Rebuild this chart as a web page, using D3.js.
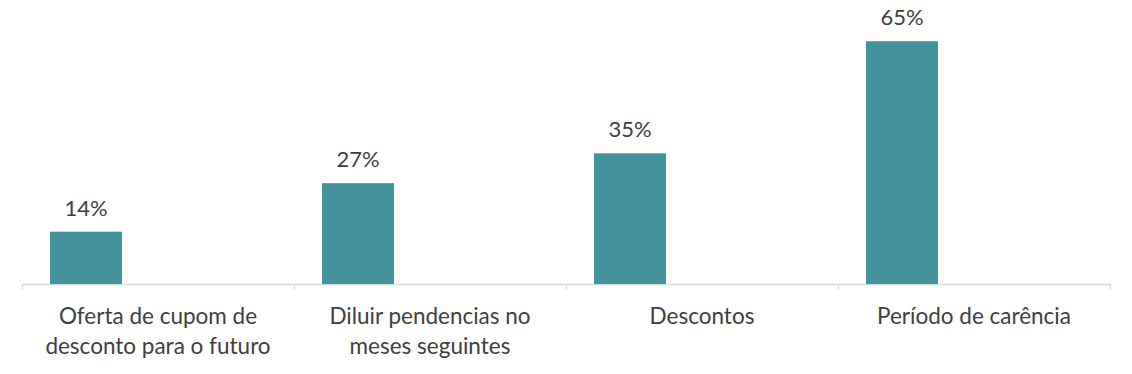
<!DOCTYPE html>
<html>
<head>
<meta charset="utf-8">
<script src="https://cdn.jsdelivr.net/npm/d3@7"></script>
<style>
  body { margin: 0; background: #fff; }
  text { font-family: Lato, "Open Sans", sans-serif; fill: #404040; }
</style>
</head>
<body>
<div id="chart"></div>
<script>
const categories = [
  ['Oferta de cupom de', 'desconto para o futuro'],
  ['Diluir pendencias no', 'meses seguintes'],
  ['Descontos'],
  ['Período de carência']
]
const values = [14, 27, 35, 65]
const series = ['valor', 'vazio']

const width = 1132
const height = 374
const margin = { top: 0, left: 22, right: 22, baseline: 284 }

const svg = d3.select('#chart')
  .append('svg')
  .attr('width', width)
  .attr('height', height)

const xScale = d3.scaleBand()
  .domain(d3.range(categories.length))
  .range([margin.left, width - margin.right])
  .padding(0)

// each category holds two slots, only the first one has a bar
const xInner = d3.scaleBand()
  .domain(series)
  .range([0, xScale.bandwidth()])
  .paddingInner(0.5)
  .paddingOuter(0.194)

const yScale = d3.scaleLinear()
  .domain([0, 70])
  .range([margin.baseline, margin.baseline - 70 * 3.735])

// axis
const xAxis = d3.axisBottom(xScale)
  .tickSize(0)
  .tickFormat('')

const axisG = svg.append('g')
  .attr('transform', 'translate(0,' + margin.baseline + ')')
  .call(xAxis)
axisG.select('.domain').attr('stroke', '#d9d9d9').attr('stroke-width', 1.3)

// category separators
const edges = d3.range(categories.length + 1).map(i => i < categories.length ? xScale(i) : xScale(i - 1) + xScale.bandwidth())
svg.selectAll('.sep')
  .data(edges)
  .enter()
  .append('line')
  .attr('x1', d => Math.round(d) + 0.5)
  .attr('x2', d => Math.round(d) + 0.5)
  .attr('y1', margin.baseline)
  .attr('y2', margin.baseline + 6)
  .attr('stroke', '#d9d9d9')
  .attr('stroke-width', 1.3)

// bars
svg.selectAll('.bar')
  .data(values)
  .enter()
  .append('rect')
  .attr('class', 'bar')
  .attr('x', (d, i) => xScale(i) + xInner('valor'))
  .attr('width', xInner.bandwidth())
  .attr('y', d => yScale(d))
  .attr('height', d => yScale(0) - yScale(d))
  .attr('fill', '#44929c')

// value labels
svg.selectAll('.val')
  .data(values)
  .enter()
  .append('text')
  .attr('x', (d, i) => xScale(i) + xInner('valor') + xInner.bandwidth() / 2)
  .attr('y', d => yScale(d) - 16)
  .attr('text-anchor', 'middle')
  .attr('font-size', 22)
  .text(d => d + '%')

// category labels
const labels = svg.selectAll('.cat')
  .data(categories)
  .enter()
  .append('text')
  .attr('text-anchor', 'middle')
  .attr('font-size', 22.5)
  .attr('x', (d, i) => xScale(i) + xScale.bandwidth() / 2)
  .attr('y', 324)

labels.selectAll('tspan')
  .data(d => d)
  .enter()
  .append('tspan')
  .attr('x', function () { return d3.select(this.parentNode).attr('x') })
  .attr('dy', (d, i) => i === 0 ? 0 : 30)
  .text(d => d)
</script>
</body>
</html>
